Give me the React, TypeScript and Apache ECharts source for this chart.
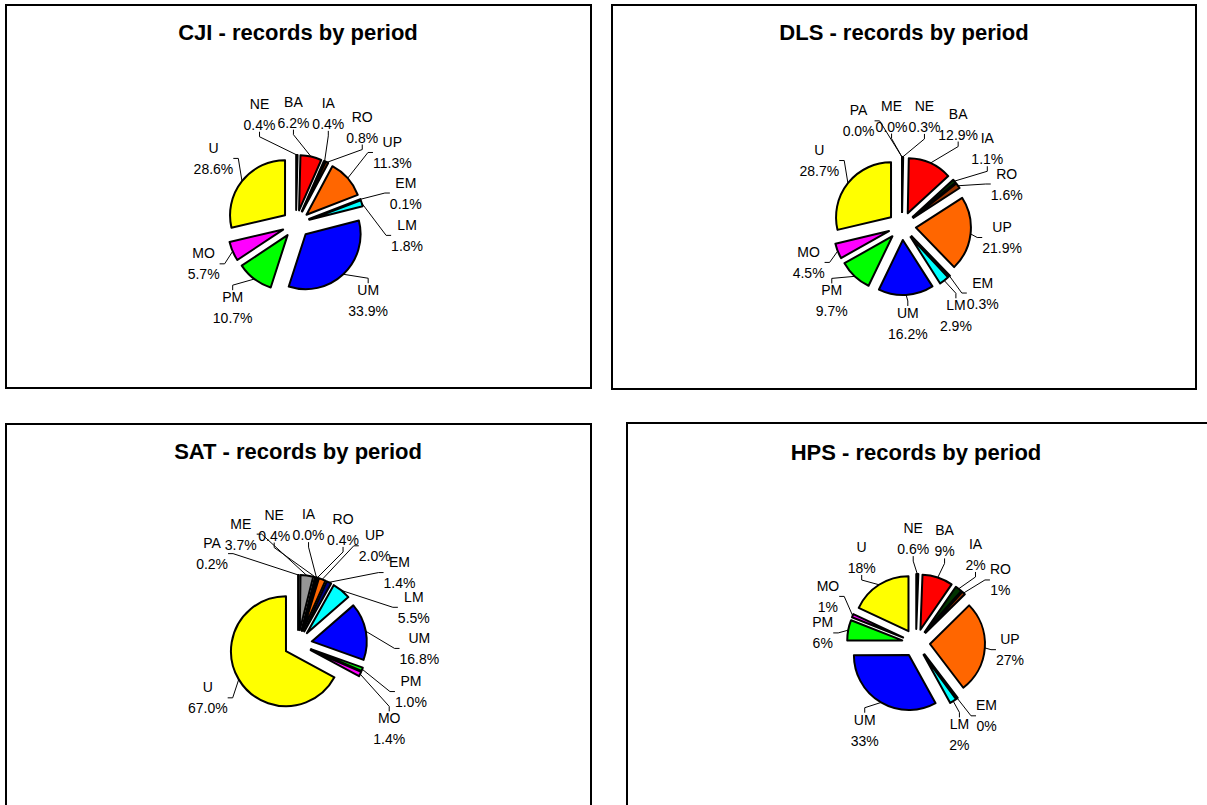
import React, { useEffect, useRef } from "react";
import * as echarts from "echarts";

const PERIOD_COLORS: Record<string, string> = {
  PA: "#FFFFFF",
  ME: "#969696",
  NE: "#000000",
  BA: "#FF0000",
  IA: "#003300",
  RO: "#993300",
  UP: "#FF6600",
  EM: "#000080",
  LM: "#00FFFF",
  UM: "#0000FF",
  PM: "#00FF00",
  MO: "#FF00FF",
  U: "#FFFF00",
};

const CJI_PERIODS = ["NE", "BA", "IA", "RO", "UP", "EM", "LM", "UM", "PM", "MO", "U"];
const CJI_VALUES = [0.4, 6.2, 0.4, 0.8, 11.3, 0.1, 1.8, 33.9, 10.7, 5.7, 28.6];

const DLS_PERIODS = ["PA", "ME", "NE", "BA", "IA", "RO", "UP", "EM", "LM", "UM", "PM", "MO", "U"];
const DLS_VALUES = [0.0, 0.0, 0.3, 12.9, 1.1, 1.6, 21.9, 0.3, 2.9, 16.2, 9.7, 4.5, 28.7];

const SAT_PERIODS = ["PA", "ME", "NE", "IA", "RO", "UP", "EM", "LM", "UM", "PM", "MO", "U"];
const SAT_VALUES = [0.2, 3.7, 0.4, 0.0, 0.4, 2.0, 1.4, 5.5, 16.8, 1.0, 1.4, 67.0];

const HPS_PERIODS = ["NE", "BA", "IA", "RO", "UP", "EM", "LM", "UM", "PM", "MO", "U"];
const HPS_VALUES = [0.6, 9, 2, 1, 27, 0.3, 2, 33, 6, 1, 18];
const HPS_LABELS = ["0.6%", "9%", "2%", "1%", "27%", "0%", "2%", "33%", "6%", "1%", "18%"];

const FONT = "'Liberation Sans', Arial, sans-serif";
const RADIUS = 55;
const OFFSET = 14;
const LABEL_GAP = 10;
const SIDE_RATIO = 1.3;

type ChartCfg = {
  title: string;
  periods: string[];
  values: number[];
  labels: string[] | null;
  cx: number;
  cy: number;
  box: [number, number, number, number];
  titleX: number;
  titleY: number;
  spreadDeg: number;
};

const CHARTS: ChartCfg[] = [
  { title: "CJI - records by period", periods: CJI_PERIODS, values: CJI_VALUES, labels: null, cx: 296, cy: 224, box: [6, 5, 585, 383], titleX: 298, titleY: 21, spreadDeg: 17 },
  { title: "DLS - records by period", periods: DLS_PERIODS, values: DLS_VALUES, labels: null, cx: 902, cy: 226, box: [612, 5, 584, 384], titleX: 904, titleY: 21, spreadDeg: 17 },
  { title: "SAT - records by period", periods: SAT_PERIODS, values: SAT_VALUES, labels: null, cx: 298, cy: 644, box: [6, 424, 585, 420], titleX: 298, titleY: 440, spreadDeg: 16 },
  { title: "HPS - records by period", periods: HPS_PERIODS, values: HPS_VALUES, labels: HPS_LABELS, cx: 916, cy: 643, box: [627, 423, 620, 420], titleX: 916, titleY: 441, spreadDeg: 17 },
];

function midAngles(values: number[]): number[] {
  const total = values.reduce((a, b) => a + b, 0);
  const mids: number[] = [];
  let acc = 0;
  values.forEach((v) => {
    mids.push(((acc + v / 2) / total) * Math.PI * 2);
    acc += v;
  });
  return mids;
}

// Spread label angles so that consecutive labels keep a minimum angular gap
// (wider on the sides, where labels stack vertically), moving them as little
// as possible (pool-adjacent-violators on the gap-shifted angles).
function spreadAngles(mids: number[], gapDeg: number): { angles: number[]; crowd: number[] } {
  const g = (gapDeg * Math.PI) / 180;
  const cum: number[] = [0];
  for (let i = 1; i < mids.length; i++) {
    const th = (mids[i - 1] + mids[i]) / 2;
    const f = Math.sqrt(Math.pow(SIDE_RATIO * Math.sin(th), 2) + Math.pow(Math.cos(th), 2));
    cum.push(cum[i - 1] + g * f);
  }
  const b = mids.map((m, i) => m - cum[i]);
  const blocks: { sum: number; n: number }[] = [];
  b.forEach((v) => {
    blocks.push({ sum: v, n: 1 });
    while (blocks.length > 1) {
      const a1 = blocks[blocks.length - 2];
      const a2 = blocks[blocks.length - 1];
      if (a1.sum / a1.n > a2.sum / a2.n) {
        blocks.pop();
        a1.sum += a2.sum;
        a1.n += a2.n;
      } else break;
    }
  });
  const fitted: number[] = [];
  const crowd: number[] = [];
  blocks.forEach((bl) => {
    for (let k = 0; k < bl.n; k++) {
      fitted.push(bl.sum / bl.n);
      crowd.push(bl.n);
    }
  });
  return { angles: fitted.map((f, i) => f + cum[i]), crowd };
}

function buildSlices(c: ChartCfg): any {
  return {
    type: "pie",
    name: c.title,
    center: [c.cx, c.cy],
    radius: RADIUS,
    startAngle: 90,
    clockwise: true,
    selectedMode: "multiple",
    selectedOffset: OFFSET,
    avoidLabelOverlap: false,
    minAngle: 0,
    silent: true,
    z: 2,
    itemStyle: { borderColor: "#000", borderWidth: 2 },
    select: { itemStyle: { borderColor: "#000", borderWidth: 2 } },
    emphasis: { disabled: true },
    label: { show: false },
    labelLine: { show: false },
    data: c.periods.map((p, j) => ({
      name: p,
      value: c.values[j],
      selected: true,
      itemStyle: { color: PERIOD_COLORS[p] },
    })),
  };
}

function buildLabels(c: ChartCfg): any {
  const { angles, crowd } = spreadAngles(midAngles(c.values), c.spreadDeg);
  return {
    type: "pie",
    name: c.title + " labels",
    center: [c.cx, c.cy],
    radius: RADIUS + OFFSET,
    startAngle: 90,
    clockwise: true,
    selectedMode: false,
    avoidLabelOverlap: false,
    minAngle: 0,
    silent: true,
    z: 3,
    itemStyle: { color: "rgba(255,255,255,0)", borderWidth: 0 },
    emphasis: { disabled: true },
    label: {
      show: true,
      position: "outside",
      formatter: (p: any) => {
        const txt = c.labels ? c.labels[p.dataIndex] : `${Number(p.value).toFixed(1)}%`;
        return `{t|${p.name}}\n{t|${txt}}`;
      },
      rich: {
        t: { fontSize: 14, fontFamily: FONT, color: "#000", lineHeight: 21, align: "center" },
      },
    },
    labelLine: { show: true, length: 8, length2: 5, lineStyle: { color: "#000", width: 1 } },
    labelLayout: (params: any) => {
      const i = params.dataIndex;
      const m = angles[i];
      const ux = Math.sin(m);
      const uy = -Math.cos(m);
      const w = params.labelRect.width;
      const h = params.labelRect.height;
      const support = (Math.abs(ux) * w) / 2 + (Math.abs(uy) * h) / 2;
      const extra = Math.min(2.5 * (crowd[i] - 1), 22);
      const R = RADIUS + OFFSET + LABEL_GAP + support + extra;
      return { x: c.cx + ux * R, y: c.cy + uy * R, align: "center", verticalAlign: "middle" };
    },
    data: c.periods.map((p, j) => ({ name: p, value: c.values[j] })),
  };
}

export default function App() {
  const ref = useRef<HTMLDivElement>(null);
  useEffect(() => {
    if (!ref.current) return;
    const chart = echarts.init(ref.current, null, { renderer: "svg" });
    const graphics: any[] = CHARTS.map((c) => ({
      type: "rect",
      shape: { x: c.box[0], y: c.box[1], width: c.box[2], height: c.box[3] },
      style: { fill: "#fff", stroke: "#000", lineWidth: 2 },
      z: -10,
      silent: true,
    }));
    const series: any[] = [];
    CHARTS.forEach((c) => {
      series.push(buildSlices(c));
      series.push(buildLabels(c));
    });
    chart.setOption({
      animation: false,
      backgroundColor: "#fff",
      title: CHARTS.map((c) => ({
        text: c.title,
        left: c.titleX,
        top: c.titleY,
        textAlign: "center",
        padding: 0,
        textStyle: { fontFamily: FONT, fontSize: 22, fontWeight: "bold", color: "#000" },
      })),
      graphic: graphics,
      series,
    });
    return () => chart.dispose();
  }, []);
  return (
    <div
      ref={ref}
      style={{ position: "absolute", left: 0, top: 0, width: 1207, height: 805, background: "#fff" }}
    />
  );
}
